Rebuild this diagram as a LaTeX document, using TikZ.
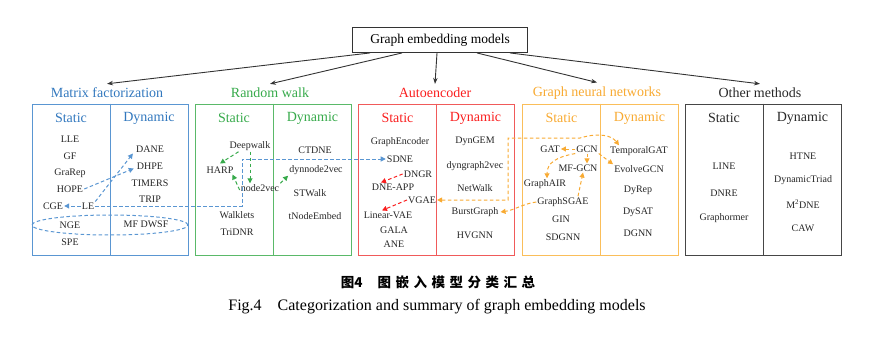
\documentclass[tikz,border=0pt]{standalone}
\usepackage{fontspec}
\setmainfont{Liberation Serif}
\newfontfamily\cjk{Noto Sans CJK SC}
\usetikzlibrary{arrows.meta,calc,shapes.geometric}
\definecolor{mfc}{RGB}{50,120,190}
\definecolor{mfl}{RGB}{90,150,210}
\definecolor{rwc}{RGB}{55,170,75}
\definecolor{rwl}{RGB}{90,185,105}
\definecolor{aec}{RGB}{250,30,30}
\definecolor{ael}{RGB}{240,90,90}
\definecolor{gnc}{RGB}{248,170,50}
\definecolor{gnl}{RGB}{250,190,90}
\definecolor{otc}{RGB}{40,40,40}
\definecolor{otl}{RGB}{70,70,70}
\begin{document}
\begin{tikzpicture}[x=1pt,y=-1pt,
  it/.style={font=\fontsize{10}{12}\selectfont, inner sep=1pt, text=black!85},
  hd/.style={font=\fontsize{14}{16}\selectfont, inner sep=1pt},
  cat/.style={font=\fontsize{14}{16}\selectfont, inner sep=1pt},
  colbox/.style={draw, minimum width=156pt, minimum height=151pt, line width=1pt, inner sep=0pt},
  dsh/.style={dash pattern=on 3.5pt off 2.5pt, line width=1pt, -{Triangle[length=5pt,width=5pt]}},
  bdash/.style={dsh, draw=mfl},
  gdash/.style={dsh, draw=rwc},
  rdash/.style={dsh, draw=aec},
  odash/.style={dsh, draw=gnc},
  toparrow/.style={line width=0.9pt, draw=black!80, -{Stealth[length=6pt,width=4.5pt]}}
]
\useasboundingbox (0,0) rectangle (885,345);

% title
\node[draw=black!80, line width=0.9pt, minimum width=175pt, minimum height=25pt, font=\fontsize{13.5}{15}\selectfont] (title) at (440,40) {Graph embedding models};

% category labels
\node[cat, text=mfc] (mft) at (107,93) {Matrix factorization};
\node[cat, text=rwc] (rwt) at (270,93) {Random walk};
\node[cat, text=aec] (aet) at (435,93) {Autoencoder};
\node[cat, text=gnc] (gnt) at (597,93) {Graph neural networks};
\node[cat, text=otc] (ott) at (760,93) {Other methods};

\draw[toparrow] ([xshift=-70pt]title.south) -- ([yshift=3pt]mft.north);
\draw[toparrow] ([xshift=-38pt]title.south) -- ([yshift=3pt]rwt.north);
\draw[toparrow] ([xshift=-3pt]title.south) -- ([yshift=3pt]aet.north);
\draw[toparrow] ([xshift=37pt]title.south) -- ([yshift=3pt]gnt.north);
\draw[toparrow] ([xshift=70pt]title.south) -- ([yshift=3pt]ott.north);

% boxes
\node[colbox, draw=mfl] (mfbox) at (110,179.5) {};
\node[colbox, draw=rwl] (rwbox) at (273.5,179.5) {};
\node[colbox, draw=ael] (aebox) at (436,179.5) {};
\node[colbox, draw=gnl] (gnbox) at (600,179.5) {};
\node[colbox, draw=otl] (otbox) at (763.5,179.5) {};
\draw[mfl, line width=1pt] (mfbox.north) -- (mfbox.south);
\draw[rwl, line width=1pt] (rwbox.north) -- (rwbox.south);
\draw[ael, line width=1pt] (aebox.north) -- (aebox.south);
\draw[gnl, line width=1pt] (gnbox.north) -- (gnbox.south);
\draw[otl, line width=1pt] (otbox.north) -- (otbox.south);

% headings
\node[hd, text=mfc] (mfs) at (71,118) {Static};
\node[hd, text=mfc] (mfd) at (149,118) {Dynamic};
\node[hd, text=rwc] (rws) at (234,118) {Static};
\node[hd, text=rwc] (rwd) at (312.5,118) {Dynamic};
\node[hd, text=aec] (aes) at (397.5,118) {Static};
\node[hd, text=aec] (aed) at (475.5,118) {Dynamic};
\node[hd, text=gnc] (gns) at (561.5,118) {Static};
\node[hd, text=gnc] (gnd) at (639.5,118) {Dynamic};
\node[hd, text=otc] (ots) at (724,118) {Static};
\node[hd, text=otc] (otd) at (802.5,118) {Dynamic};

% Matrix factorization
\node[it] (lle) at (70,139) {LLE};
\node[it] (gf) at (70,156) {GF};
\node[it] (grarep) at (70,173) {GraRep};
\node[it] (hope) at (70,189) {HOPE};
\node[it] (cge) at (53,206) {CGE};
\node[it] (le) at (88,206) {LE};
\node[it] (nge) at (70,225) {NGE};
\node[it] (spe) at (70,242) {SPE};
\node[it] (dane) at (150,149) {DANE};
\node[it] (dhpe) at (150,166) {DHPE};
\node[it] (timers) at (150,183) {TIMERS};
\node[it] (trip) at (150,199) {TRIP};
\node[it] (mfdwsf) at (146,224) {MF DWSF};
\node[draw=mfl, dash pattern=on 3.5pt off 2.5pt, line width=1pt, ellipse, minimum width=156pt, minimum height=20pt, inner sep=0pt] (ell) at (110,225) {};

% Random walk
\node[it] (deepwalk) at (250,146) {Deepwalk};
\node[it] (harp) at (220,170) {HARP};
\node[it] (node2vec) at (260,188) {node2vec};
\node[it] (walklets) at (237,215) {Walklets};
\node[it] (tridnr) at (237,232) {TriDNR};
\node[it] (ctdne) at (315,150) {CTDNE};
\node[it] (dynnode2vec) at (316,170) {dynnode2vec};
\node[it] (stwalk) at (310,193) {STWalk};
\node[it] (tnodeembed) at (315,216) {tNodeEmbed};

% Autoencoder
\node[it] (graphencoder) at (400,142) {GraphEncoder};
\node[it] (sdne) at (400,159) {SDNE};
\node[it] (dngr) at (418,174) {DNGR};
\node[it] (dneapp) at (393,187) {DNE-APP};
\node[it] (vgae) at (422,200) {VGAE};
\node[it] (linearvae) at (388,215) {Linear-VAE};
\node[it] (gala) at (394,230) {GALA};
\node[it] (ane) at (394,244) {ANE};
\node[it] (dyngem) at (475,141) {DynGEM};
\node[it] (dyngraph2vec) at (475,166) {dyngraph2vec};
\node[it] (netwalk) at (475,188) {NetWalk};
\node[it] (burstgraph) at (475,212) {BurstGraph};
\node[it] (hvgnn) at (475,235) {HVGNN};

% GNN
\node[it] (gat) at (550,149) {GAT};
\node[it] (gcn) at (587,149) {GCN};
\node[it] (mfgcn) at (578,168) {MF-GCN};
\node[it] (graphair) at (545,184) {GraphAIR};
\node[it] (graphsgae) at (563,202) {GraphSGAE};
\node[it] (gin) at (561,219) {GIN};
\node[it] (sdgnn) at (563,237) {SDGNN};
\node[it] (temporalgat) at (639,151) {TemporalGAT};
\node[it] (evolvegcn) at (639,169) {EvolveGCN};
\node[it] (dyrep) at (638,190) {DyRep};
\node[it] (dysat) at (638,212) {DySAT};
\node[it] (dgnn) at (638,233) {DGNN};

% Other
\node[it] (line) at (724,166) {LINE};
\node[it] (dnre) at (724,193) {DNRE};
\node[it] (graphormer) at (724,218) {Graphormer};
\node[it] (htne) at (803,156) {HTNE};
\node[it] (dynamictriad) at (803,180) {DynamicTriad};
\node[it] (m2dne) at (803,204) {M\textsuperscript{2}DNE};
\node[it] (caw) at (803,228) {CAW};

% blue connectors
\draw[bdash] (hope.east) -- ([xshift=-2pt,yshift=2pt]dhpe.south west);
\draw[bdash] (le.north east) -- ([xshift=-2pt]dane.south west);
\draw[bdash] (le.west) -- (cge.east);
\coordinate (bb) at (242,206);
\draw[bdash] (le.east) -- (le.east -| bb) |- (sdne.west);

% green connectors
\draw[gdash] ([xshift=10pt]deepwalk.south west) -- ([yshift=2pt]harp.north);
\draw[gdash] (deepwalk.south) -- (deepwalk.south |- node2vec.north);
\draw[gdash] ([yshift=-2pt]node2vec.west) -- ([xshift=-2pt]harp.south east);
\draw[gdash] (node2vec.north east) -- (dynnode2vec.south west);

% red connectors
\draw[rdash] (dngr.west) -- ([xshift=-12pt]dneapp.north);
\draw[rdash] (vgae.west) -- ([xshift=-6pt]linearvae.north);

% orange connectors
\coordinate (oa) at (508,200);
\coordinate (ob) at (508,138);
\coordinate (oc) at (580,138);
\draw[odash, {Triangle[length=5pt,width=5pt]}-{Triangle[length=5pt,width=5pt]}] (vgae.east) -- (vgae.east -| oa) -- (ob) -- (oc) .. controls (600,132) and (612,136) .. ([xshift=10pt]temporalgat.north west);
\draw[odash] (graphsgae.west) .. controls (522,204) and (515,210) .. ([xshift=1pt]burstgraph.east);
\draw[odash] (gcn.west) -- (gat.east);
\draw[odash] (gcn.south) -- (gcn.south |- mfgcn.north);
\draw[odash] (gcn.south east) -- (evolvegcn.north west);
\draw[odash] (gcn.south west) .. controls (556,157) and (547,163) .. ([xshift=2pt]graphair.north);
\draw[odash] ([xshift=15pt]graphsgae.north) -- ([xshift=5pt]mfgcn.south);

% captions
\node[font=\cjk\bfseries\fontsize{13.5}{15}\selectfont, inner sep=0pt] (cncap) at (438,282) {图4\hspace{15pt}图\hspace{4.5pt}嵌\hspace{4.5pt}入\hspace{4.5pt}模\hspace{4.5pt}型\hspace{4.5pt}分\hspace{4.5pt}类\hspace{4.5pt}汇\hspace{4.5pt}总};
\node[font=\fontsize{16}{18}\selectfont, inner sep=0pt] (encap) at (437,307) {Fig.4\hspace{16pt}Categorization and summary of graph embedding models};
\end{tikzpicture}
\end{document}
